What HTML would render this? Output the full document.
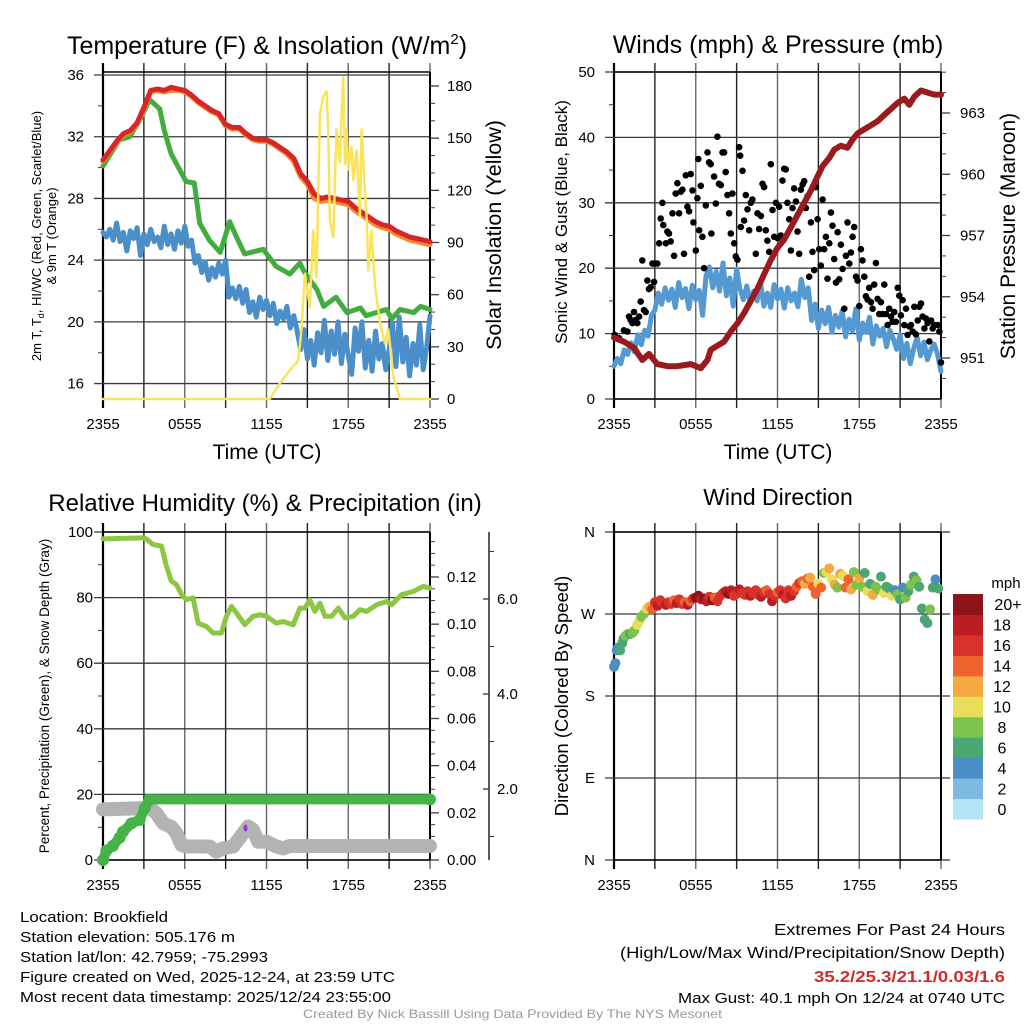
<!DOCTYPE html>
<html><head><meta charset="utf-8">
<style>
html,body{margin:0;padding:0;background:#fff;}
svg{display:block;font-family:"Liberation Sans",sans-serif;}
.nar{font-family:"Liberation Sans Narrow","Liberation Sans",sans-serif;}
</style></head>
<body>
<svg id="fig" xmlns="http://www.w3.org/2000/svg" width="1024" height="1024" viewBox="0 0 1024 1024">
<rect x="0" y="0" width="1024" height="1024" fill="#fff"/>
<g id="layer"></g>

<text x="267" y="54" font-size="25" text-anchor="middle">Temperature (F) &amp; Insolation (W/m<tspan font-size="15" dy="-10">2</tspan><tspan dy="10">)</tspan></text>
<text x="778" y="53" font-size="25" text-anchor="middle">Winds (mph) &amp; Pressure (mb)</text>
<text x="265" y="511" font-size="24" text-anchor="middle">Relative Humidity (%) &amp; Precipitation (in)</text>
<text x="778" y="505" font-size="23" text-anchor="middle">Wind Direction</text>

<text x="267" y="459" font-size="21" text-anchor="middle">Time (UTC)</text>
<text x="778" y="459" font-size="21" text-anchor="middle">Time (UTC)</text>

<g transform="translate(41,236) rotate(-90)">
<text x="0" y="0" font-size="13" text-anchor="middle">2m T, T<tspan font-size="9" dy="3">d</tspan><tspan dy="-3">, HI/WC (Red, Green, Scarlet/Blue)</tspan></text>
<text x="0" y="15" font-size="13" text-anchor="middle">&amp; 9m T (Orange)</text>
</g>
<text transform="translate(501,235) rotate(-90)" font-size="21.5" text-anchor="middle">Solar Insolation (Yellow)</text>
<text transform="translate(567,222) rotate(-90)" font-size="17" text-anchor="middle">Sonic Wind &amp; Gust (Blue, Black)</text>
<text transform="translate(1015,236) rotate(-90)" font-size="21" text-anchor="middle">Station Pressure (Maroon)</text>
<text transform="translate(49,696) rotate(-90)" font-size="13.5" text-anchor="middle">Percent, Precipitation (Green), &amp; Snow Depth (Gray)</text>
<text transform="translate(568,696) rotate(-90)" font-size="18.5" text-anchor="middle">Direction (Colored By Speed)</text>

<text x="1006" y="588" font-size="15" text-anchor="middle">mph</text>

<g class="nar" font-size="15">
<text x="20" y="922" textLength="148" lengthAdjust="spacingAndGlyphs">Location: Brookfield</text>
<text x="20" y="942" textLength="215" lengthAdjust="spacingAndGlyphs">Station elevation: 505.176 m</text>
<text x="20" y="962" textLength="248" lengthAdjust="spacingAndGlyphs">Station lat/lon: 42.7959; -75.2993</text>
<text x="20" y="982" textLength="375" lengthAdjust="spacingAndGlyphs">Figure created on Wed, 2025-12-24, at 23:59 UTC</text>
<text x="20" y="1002" textLength="371" lengthAdjust="spacingAndGlyphs">Most recent data timestamp: 2025/12/24 23:55:00</text>
</g>
<g class="nar">
<text x="774" y="935" font-size="16" textLength="231" lengthAdjust="spacingAndGlyphs">Extremes For Past 24 Hours</text>
<text x="620" y="958" font-size="16" textLength="385" lengthAdjust="spacingAndGlyphs">(High/Low/Max Wind/Precipitation/Snow Depth)</text>
<text x="814" y="982" font-size="16" font-weight="bold" fill="#d22a2e" textLength="191" lengthAdjust="spacingAndGlyphs">35.2/25.3/21.1/0.03/1.6</text>
<text x="678" y="1003" font-size="15" textLength="327" lengthAdjust="spacingAndGlyphs">Max Gust: 40.1 mph On 12/24 at 0740 UTC</text>
</g>
<text class="nar" x="303" y="1018" font-size="12" fill="#999" textLength="419" lengthAdjust="spacingAndGlyphs">Created By Nick Bassill Using Data Provided By The NYS Mesonet</text>
</svg>
<script>
// ---------- DATA ----------
const timeLabels = ['2355','0555','1155','1755','2355'];
const timeLabelHours = [0,6,12,18,24];
const gridHours = [0,3,6,9,12,15,18,21,24];

const tempTimes = [0,0.5,1,1.5,2,2.5,3,3.5,4,4.5,5,5.5,6,6.5,7,7.5,8,8.5,9,9.5,10,10.5,11,11.5,12,12.5,13,13.5,14,14.5,15,15.5,16,16.5,17,17.5,18,18.5,19,19.5,20,20.5,21,21.5,22,22.5,23,23.5,24];
const tempRed = [30.5,31.1,31.7,32.2,32.4,32.9,33.9,35.0,35.1,35.0,35.2,35.1,35.0,34.7,34.3,34.0,33.7,33.5,32.8,32.6,32.6,32.2,31.9,31.8,31.8,31.6,31.3,31.0,30.6,29.6,29.1,28.3,28.0,28.1,28.0,27.9,27.8,27.4,27.1,26.8,26.5,26.3,26.2,25.9,25.7,25.5,25.4,25.3,25.2];
const temp9mOrange = [30.4,31.0,31.6,32.1,32.3,32.8,33.8,34.9,35.0,34.9,35.0,35.0,34.9,34.6,34.2,33.9,33.6,33.4,32.7,32.5,32.5,32.1,31.8,31.7,31.7,31.5,31.2,30.9,30.4,29.4,28.9,28.0,27.8,27.9,27.8,27.7,27.6,27.2,26.9,26.6,26.3,26.1,26.0,25.7,25.5,25.3,25.2,25.1,25.0];
const dewTimes = [0,1.2,1.96,2.7,3.43,4.16,4.5,5.0,5.6,6.1,6.7,7.1,7.8,8.6,9.3,9.8,10.4,11.76,12.7,13.7,14.45,14.8,15.7,16.2,17.1,17.9,18.9,19.3,20.8,21.2,21.8,22.8,23.3,24];
const dewGreen = [30.1,31.8,32.0,33.1,34.4,33.8,32.4,30.9,29.9,29.1,29.0,26.4,25.3,24.5,26.5,25.5,24.4,24.7,23.6,23.1,23.8,23.2,22.1,21.0,21.6,20.6,20.9,20.4,20.8,20.2,20.8,20.6,21.0,20.8];
const windChillBlue = [25.8,25.5,26.0,25.3,26.4,25.2,25.8,24.6,25.9,25.4,26.1,24.3,25.7,25.0,26.0,25.2,25.5,24.8,26.2,25.0,25.7,24.7,25.9,25.1,26.2,24.9,25.3,
23.8,24.3,23.2,23.9,22.7,23.5,22.9,23.8,23.1,24.0,
21.6,22.2,21.5,22.3,21.2,22.1,20.6,21.3,
20.3,21.6,20.8,21.4,20.4,21.2,19.9,20.7,20.2,21.0,19.6,20.4,19.4,
18.2,19.5,17.6,18.8,17.2,19.3,18.0,20.1,17.5,19.4,17.9,20.0,17.3,19.2,17.8,16.6,19.6,18.1,20.0,17.0,18.8,16.8,19.4,17.6,18.6,16.9,18.2,19.9,17.1,20.3,17.4,19.0,16.5,18.6,17.2,19.8,16.9,18.3,20.4];
const solarTimes = [0,12.24,12.98,13.71,14.33,14.57,14.82,15.18,15.43,15.67,15.92,16.16,16.41,16.53,16.65,16.9,17.14,17.39,17.51,17.63,17.76,17.88,18.0,18.24,18.37,18.61,18.86,18.98,19.22,19.35,19.47,19.71,19.96,20.33,20.69,20.94,21.31,21.8,24];
const solarValues = [0,0,9,16.5,22,40,72,53,97,70,164,174,177,155,103,93,155,136,164,185,135,155,132,145,126,143,105,155,120,105,74,97,65,44,32,40,13,0,0];

const windSpeed = [5.0,6.2,5.4,7.5,6.8,8.6,7.2,9.8,8.3,10.5,9.6,12.8,13.6,
16.2,14.5,17.0,15.1,16.8,14.0,17.8,15.5,16.9,13.8,17.4,15.2,16.6,12.8,
18.8,20.2,17.0,19.5,16.5,20.8,15.8,18.5,14.2,19.9,
16.8,15.2,17.3,14.6,16.5,15.0,17.8,14.2,
16.2,14.0,17.5,15.3,16.8,13.9,17.0,15.0,16.2,14.1,18.3,15.5,17.0,
12.0,14.5,10.8,13.6,11.5,14.0,10.2,12.8,11.0,13.5,9.5,12.2,10.4,13.8,9.0,11.6,10.2,12.5,8.4,11.2,9.6,10.8,8.0,10.5,9.2,7.6,9.8,6.2,8.5,5.4,7.8,9.4,6.6,8.7,6.0,7.5,8.4,6.8,4.2];
const gustTimes = [0.05,0.37,0.73,0.98,1.1,1.22,1.35,1.47,1.59,1.71,1.84,1.96,2.08,2.2,2.33,2.45,2.57,2.69,2.82,2.94,2.96,3.18,3.31,3.43,3.55,3.62,3.8,3.92,4.04,4.16,4.29,4.41,4.53,4.65,4.78,4.9,5.02,5.14,5.27,5.39,5.51,5.63,5.76,5.83,6.0,6.12,6.19,6.25,6.37,6.49,6.61,6.74,6.86,6.98,7.1,7.15,7.35,7.47,7.59,7.71,7.84,7.96,8.08,8.2,8.33,8.45,8.57,8.69,8.82,8.94,9.06,9.18,9.26,9.31,9.43,9.55,9.67,9.8,9.92,10.04,10.16,10.41,10.53,10.65,10.78,10.9,11.02,11.14,11.26,11.39,11.51,11.63,11.76,11.88,12.0,12.12,12.24,12.37,12.49,12.61,12.73,12.86,12.98,13.1,13.22,13.35,13.47,13.59,13.71,13.84,13.96,14.08,14.2,14.33,14.45,14.57,14.69,14.82,14.94,15.06,15.18,15.31,15.43,15.55,15.67,15.8,15.92,16.04,16.16,16.29,16.41,16.53,16.65,16.78,16.9,17.02,17.14,17.27,17.39,17.51,17.63,17.76,17.88,18.0,18.12,18.24,18.37,18.49,18.61,18.73,18.86,18.98,19.1,19.22,19.35,19.47,19.59,19.71,19.84,19.96,20.08,20.2,20.33,20.45,20.57,20.69,20.82,20.94,21.06,21.18,21.31,21.43,21.55,21.67,21.8,21.92,22.04,22.16,22.29,22.41,22.53,22.65,22.78,22.9,23.02,23.14,23.27,23.39,23.51,23.76,23.88,24.0];
const gustValues = [9.8,9.3,10.5,10.3,12.6,12.1,11.6,13.3,12.1,11.6,12.6,14.9,21.2,13.6,13.3,18.1,16.8,17.1,20.7,17.9,20.7,20.7,23.8,27.6,30.0,26.6,23.8,25.6,25.3,24.1,28.4,21.9,31.4,33.0,28.4,31.7,32.0,22.2,34.2,29.4,28.7,34.4,31.9,27.0,22.7,30.7,36.7,25.8,32.6,24.8,20.0,29.6,37.7,36.2,35.9,25.3,34.0,29.9,40.1,32.9,32.7,37.7,37.7,34.7,31.2,28.4,25.3,31.4,23.8,21.8,21.3,38.5,37.2,26.3,34.9,27.3,31.2,29.0,25.8,30.0,30.5,22.2,28.4,26.0,28.0,32.9,32.4,25.8,24.2,22.5,35.9,28.9,24.8,30.0,24.6,29.4,25.0,33.4,35.2,35.1,30.0,27.5,22.7,29.2,32.2,30.2,25.6,22.2,32.0,32.8,33.3,29.2,31.0,18.7,27.0,22.5,19.7,32.4,27.5,22.9,20.4,30.5,22.9,24.8,18.4,23.8,28.5,26.5,21.4,17.8,25.5,18.3,23.6,19.9,13.8,21.9,27.0,20.7,22.4,24.8,26.3,18.7,18.1,14.2,22.9,21.2,18.7,15.7,15.2,17.0,14.8,13.8,17.5,20.8,15.3,13.0,14.8,13.0,17.5,13.0,11.3,13.8,12.6,11.8,13.3,11.8,17.0,15.8,12.8,15.1,11.3,13.8,9.8,11.1,11.3,10.3,14.1,9.9,12.0,14.1,14.6,12.6,10.8,12.3,11.6,8.8,12.0,10.8,11.3,11.3,10.3,5.6];
const pressTimes = [0,0.73,1.47,2.08,2.57,3.18,3.92,4.65,5.63,6.37,6.86,7.1,7.59,8.08,8.57,9.06,9.55,10.04,10.53,11.02,11.51,12.0,12.49,12.98,13.47,13.96,14.45,14.94,15.31,15.8,16.16,16.65,17.14,17.51,17.88,18.37,18.86,19.35,19.84,20.33,20.82,21.31,21.67,22.04,22.53,23.02,23.51,24];
const pressValues = [952.0,951.8,951.5,950.9,951.2,950.7,950.6,950.6,950.7,950.5,950.9,951.4,951.6,951.8,952.3,952.7,953.2,953.8,954.4,955.1,955.8,956.4,956.8,957.4,958.0,958.6,959.2,959.9,960.4,960.8,961.2,961.4,961.3,961.7,962.0,962.2,962.4,962.6,962.9,963.2,963.5,963.7,963.4,963.8,964.1,964.0,963.9,963.9];

const rhTimes = [0,2.94,3.18,3.67,4.29,4.65,5.02,5.39,5.76,6.12,6.61,6.98,7.59,8.08,8.69,9.06,9.43,9.8,10.41,11.02,11.51,12.0,12.73,13.22,13.96,14.45,14.82,15.18,15.55,15.92,16.29,16.78,17.27,17.76,18.37,18.86,19.35,20.08,20.82,21.18,21.92,22.78,23.51,24];
const rhValues = [97.9,98.2,97.9,96.2,95.7,89.6,85.0,84.0,81.0,79.4,79.9,72.2,71.2,69.2,69.2,74.3,77.3,75.3,71.7,74.3,74.8,74.3,72.2,72.7,71.7,76.8,76.8,79.3,75.8,78.3,74.3,74.3,76.8,73.8,74.3,76.3,75.8,77.8,78.8,77.8,80.9,81.9,83.4,82.9];
const precipTimes = [0,0.25,0.73,1.22,1.47,2.08,2.69,3.06,3.43,6,12,18,24];
const precipValues = [0,0.004,0.006,0.0095,0.012,0.0155,0.017,0.022,0.0257,0.0257,0.0257,0.0257,0.0257];
const snowTimes = [0,3.43,3.92,4.41,5.02,5.39,5.76,6.12,7.84,8.33,8.82,9.55,10.29,10.65,11.02,11.39,12.0,12.73,13.22,13.71,24];
const snowValues = [1.57,1.6,1.49,1.28,1.2,1.07,0.82,0.79,0.79,0.68,0.75,0.79,1.07,1.21,1.14,0.89,0.89,0.79,0.75,0.8,0.8];
const snowFlagTimes = [10.46];
const snowFlagValues = [1.18];

const dirTimes = [0.0,0.1,0.2,0.3,0.45,0.6,0.7,0.85,1.0,1.2,1.35,1.5,1.7,1.85,2.0,2.2,2.4,2.6,2.8,3.0,3.2,3.4,3.6,3.8,4.0,4.2,4.4,4.6,4.8,5.0,5.2,5.4,5.6,5.8,6.0,6.2,6.4,6.6,6.8,7.0,7.2,7.4,7.6,7.8,8.0,8.2,8.4,8.6,8.8,9.0,9.2,9.4,9.6,9.8,10.0,10.2,10.4,10.6,10.8,11.0,11.2,11.4,11.6,11.8,12.0,12.2,12.4,12.6,12.8,13.0,13.2,13.4,13.6,13.8,14.0,14.2,14.4,14.6,14.8,15.0,15.2,15.4,15.6,15.8,16.0,16.2,16.4,16.6,16.8,17.0,17.2,17.4,17.6,17.8,18.0,18.2,18.4,18.6,18.8,19.0,19.2,19.4,19.6,19.8,20.0,20.2,20.4,20.6,20.8,21.0,21.2,21.4,21.6,21.8,22.0,22.2,22.4,22.6,22.8,23.0,23.2,23.4,23.6,23.8];
const dirValues = [212,216,230,233,230,238,243,246,248,248,249,252,258,262,267,270,276,278,275,283,279,285,282,280,283,281,285,282,286,281,283,280,284,287,288,290,286,287,284,289,285,288,284,290,293,295,292,296,290,292,297,293,291,295,290,293,296,291,289,294,296,292,284,290,294,296,291,287,296,290,295,300,304,306,303,309,310,300,292,303,299,315,316,320,308,302,299,314,312,299,308,297,316,302,309,300,315,295,303,291,300,297,311,293,300,298,290,296,292,286,299,288,295,302,311,307,300,276,264,260,275,299,308,298];
const dirSpeeds = [4,4,4,5,6,6,7,8,8,7,8,8,10,10,9,8,11,12,14,16,18,16,17,18,16,17,14,18,16,17,15,18,14,16,20,20,19,20,18,17,20,15,16,17,17,18,20,18,17,16,18,17,16,17,18,16,17,17,18,16,15,17,18,16,15,17,18,16,17,18,16,15,17,14,12,15,13,15,14,11,15,8,10,12,11,13,9,12,10,14,15,12,8,9,12,8,7,10,7,12,9,8,6,10,7,6,10,5,8,7,4,8,6,8,6,8,6,7,7,6,8,7,4,6];

const speedBinLabels = ['0','2','4','6','8','10','12','14','16','18','20+'];
const speedBinColors = ['#b5e3f8','#7eb9e2','#4b8ec6','#4aa673','#7dc24a','#e6df57','#f6a842','#ee6330','#d9322b','#bc1d23','#8d1519'];

// ---------- HELPERS ----------
const NS='http://www.w3.org/2000/svg';
const layer=document.getElementById('layer');
function mk(tag,attrs,parent){const e=document.createElementNS(NS,tag);for(const k in attrs)e.setAttribute(k,attrs[k]);(parent||layer).appendChild(e);return e;}
function linScale(d0,d1,r0,r1){return v=>r0+(v-d0)*(r1-r0)/(d1-d0);}
function pathD(ts,vs,sx,sy){return ts.map((t,i)=>(i?'L':'M')+sx(t).toFixed(1)+','+sy(vs[i]).toFixed(1)).join('');}
function seriesIdx(n){return Array.from({length:n},(_,i)=>i*24/(n-1));}

const GRID='#3a3a3a';
function drawFrame(x0,x1,yt,yb,pfx,leftTicks,leftLabels,leftMinor,ysL,labelX){
  const sx=linScale(0,24,x0,x1);
  gridHours.forEach(h=>{
    const l=mk('line',{x1:sx(h),x2:sx(h),y1:yt-9,y2:yb+9,stroke:(h===0)?'#000':((h/3)%2?'#222':'#666'),'stroke-width':(h===0)?2.2:1.4});
    
    
  });
  leftTicks.forEach((v,i)=>{
    const y=ysL(v);
    const l=mk('line',{x1:x0-9,x2:x1,y1:y,y2:y,stroke:GRID,'stroke-width':1.3});
    
    
    const t=mk('text',{x:labelX,y:y+5,'font-size':15,'text-anchor':'end'});
    t.textContent=leftLabels[i];
    
    
  });
  leftMinor.forEach(v=>{
    const y=ysL(v);
    const l=mk('line',{x1:x0-5,x2:x0,y1:y,y2:y,stroke:GRID,'stroke-width':1});
    
    
  });
  timeLabelHours.forEach((h,i)=>{
    const t=mk('text',{x:sx(h),y:(pfx==='rh'||pfx==='direction')?890:429,'font-size':15,'text-anchor':'middle'});
    t.textContent=timeLabels[i];
    
    
  });
  const b=mk('line',{x1:x0,x2:x1,y1:yb,y2:yb,stroke:'#000','stroke-width':1.5});
  
  
  const tp=mk('line',{x1:x0,x2:x1,y1:yt,y2:yt,stroke:'#000','stroke-width':1.5});
  
  
  const r=mk('line',{x1:x1,x2:x1,y1:yt,y2:yb,stroke:'#000','stroke-width':2});
  
  
}
function drawRightAxis(x,pfx,majors,labels,minors,ys,labelX){
  majors.forEach((v,i)=>{
    const y=ys(v);
    const l=mk('line',{x1:x,x2:x+9,y1:y,y2:y,stroke:GRID,'stroke-width':1.3});
    
    
    const t=mk('text',{x:labelX,y:y+5,'font-size':15});
    t.textContent=labels[i];
    
    
  });
  minors.forEach(v=>{
    const y=ys(v);
    const l=mk('line',{x1:x,x2:x+5,y1:y,y2:y,stroke:GRID,'stroke-width':1});
    
    
  });
}
function range(a,b,s){const r=[];for(let v=a;v<=b+1e-9;v+=s)r.push(+v.toFixed(4));return r;}
function line(ts,vs,sx,sy,color,w,name){
  const p=mk('path',{d:pathD(ts,vs,sx,sy),fill:'none',stroke:color,'stroke-width':w,'stroke-linejoin':'round','stroke-linecap':'round'});
  
  
  return p;
}

// ---------- PANEL 1: Temperature ----------
{
  const x0=103,x1=430,yt=72,yb=399;
  const sx=linScale(0,24,x0,x1);
  const sy=linScale(15,36,399,75);
  const ss=linScale(0,180,399,86);
  drawFrame(x0,x1,yt,yb,'temp',[16,20,24,28,32,36],['16','20','24','28','32','36'],range(18,34,4),sy,84);
  drawRightAxis(x1,'solar',[0,30,60,90,120,150,180],['0','30','60','90','120','150','180'],range(10,170,10).filter(v=>v%30),ss,447);
  line(seriesIdx(windChillBlue.length),windChillBlue,sx,sy,'#4a8fca',5,'wind-chill-line');
  line(dewTimes,dewGreen,sx,sy,'#42ad3f',5,'dewpoint-line');
  line(tempTimes,temp9mOrange,sx,sy,'#f5892a',5,'temp-9m-line');
  line(tempTimes,tempRed,sx,sy,'#d7262a',5,'temp-2m-line');
  line(solarTimes,solarValues,sx,ss,'#fbe35a',2.5,'solar-insolation-line');
}
// ---------- PANEL 2: Winds ----------
{
  const x0=614,x1=941,yt=72,yb=399;
  const sx=linScale(0,24,x0,x1);
  const sy=linScale(0,50,399,72);
  const sp=linScale(951,963,358,113);
  drawFrame(x0,x1,yt,yb,'wind',[0,10,20,30,40,50],['0','10','20','30','40','50'],range(5,45,10),sy,595);
  drawRightAxis(x1,'pressure',[951,954,957,960,963],['951','954','957','960','963'],range(950,965,1).filter(v=>(v-951)%3),sp,960);
  line(seriesIdx(windSpeed.length),windSpeed,sx,sy,'#5499d2',5,'sonic-wind-line');
  gustTimes.forEach((t,i)=>{
    const c=mk('circle',{cx:sx(t).toFixed(1),cy:sy(gustValues[i]).toFixed(1),r:3.3,fill:'#000'});
    
    
  });
  line(pressTimes,pressValues,sx,sp,'#9a1a1d',6,'pressure-line');
}
// ---------- PANEL 3: RH ----------
{
  const x0=103,x1=430,yt=532,yb=860;
  const sx=linScale(0,24,x0,x1);
  const sy=linScale(0,100,860,532);
  const spr=linScale(0,0.12,860,577);
  const ssn=linScale(2,6,789,599);
  drawFrame(x0,x1,yt,yb,'rh',[0,20,40,60,80,100],['0','20','40','60','80','100'],range(10,90,20),sy,93);
  drawRightAxis(x1,'precip',range(0,0.12,0.02),['0.00','0.02','0.04','0.06','0.08','0.10','0.12'],range(0.005,0.135,0.005).filter(v=>Math.abs(v/0.02-Math.round(v/0.02))>0.01),spr,447);
  const ax=mk('line',{x1:489,x2:489,y1:532,y2:860,stroke:'#333','stroke-width':1.6});
  
  
  [2,4,6].forEach(v=>{
    const y=ssn(v);
    const l=mk('line',{x1:483,x2:489,y1:y,y2:y,stroke:'#333','stroke-width':1.3});
    
    
    const t=mk('text',{x:497,y:y+5,'font-size':15});
    t.textContent=v.toFixed(1);
    
    
  });
  [1,3,5,7].forEach(v=>{
    const y=ssn(v);
    const l=mk('line',{x1:489,x2:494,y1:y,y2:y,stroke:'#333','stroke-width':1});
    
    
  });
  line(snowTimes,snowValues,sx,ssn,'#b3b3b3',14,'snow-depth-line');
  snowFlagTimes.forEach((t,i)=>{
    const c=mk('ellipse',{cx:sx(t),cy:ssn(snowFlagValues[i]),rx:2,ry:3.5,fill:'#9b30e0'});
    
    
  });
  line(precipTimes,precipValues,sx,spr,'#45b348',10,'precip-line');
  precipTimes.slice(0,9).forEach((t,i)=>{
    const c=mk('circle',{cx:sx(t),cy:spr(precipValues[i]),r:6,fill:'#45b348'});
    
    
  });
  const pe=mk('circle',{cx:sx(24),cy:spr(precipValues[precipValues.length-1]),r:6,fill:'#45b348'});
  
  
  line(rhTimes,rhValues,sx,sy,'#8cc643',5,'rh-line');
}
// ---------- PANEL 4: Direction ----------
{
  const x0=614,x1=941,yt=532,yb=860;
  const sx=linScale(0,24,x0,x1);
  const sy=linScale(0,360,860,532);
  drawFrame(x0,x1,yt,yb,'direction',[0,90,180,270,360],['N','E','S','W','N'],[],sy,595);
  [0,90,180,270,360].forEach(v=>{
    const l=mk('line',{x1:x1,x2:x1+9,y1:sy(v),y2:sy(v),stroke:GRID,'stroke-width':1.3});
    
    
  });
  dirTimes.forEach((t,i)=>{
    const bin=Math.min(10,Math.floor(dirSpeeds[i]/2));
    const c=mk('circle',{cx:sx(t).toFixed(1),cy:sy(dirValues[i]).toFixed(1),r:5,fill:speedBinColors[bin]});
    
    
  });
  const boxH=225/11;
  speedBinLabels.forEach((lab,i)=>{
    const y=819-(i+1)*boxH;
    const r=mk('rect',{x:953,y:y.toFixed(1),width:30,height:(boxH+0.5).toFixed(1),fill:speedBinColors[i]});
    
    
    const t=mk('text',{x:lab==='20+'?1008:1002,y:(y+boxH/2+6).toFixed(1),'font-size':16,'text-anchor':'middle'});
    t.textContent=lab;
    
    
  });
}
</script>
</body></html>
